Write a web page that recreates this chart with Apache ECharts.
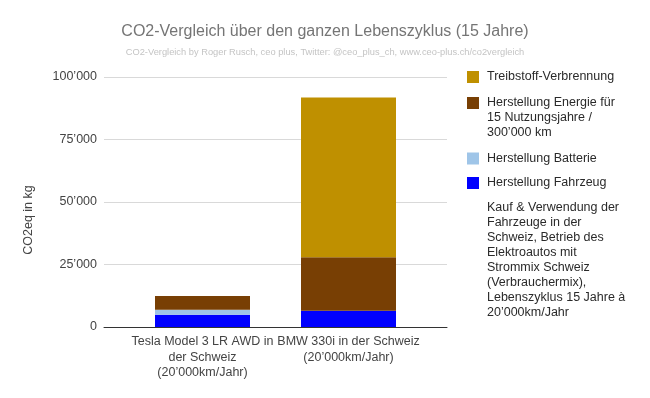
<!DOCTYPE html>
<html>
<head>
<meta charset="utf-8">
<script src="https://cdn.jsdelivr.net/npm/echarts@6/dist/echarts.min.js"></script>
<style>html,body{margin:0;padding:0;background:#fff}#c{width:650px;height:398px}</style>
</head>
<body>
<div id="c"></div>
<script>
const categories = ['Tesla Model 3 LR AWD in\nder Schweiz\n(20’000km/Jahr)', 'BMW 330i in der Schweiz\n(20’000km/Jahr)'];
const fahrzeug = [4900, 6500];
const batterie = [2000, 0];
const energie = [5500, 21400];
const treibstoff = [0, 63900];
const yTicks = [0, 25000, 50000, 75000, 100000];
const seriesNames = ['Herstellung Fahrzeug', 'Herstellung Batterie', 'Herstellung Energie für\n15 Nutzungsjahre /\n300’000 km', 'Treibstoff-Verbrennung'];
const noteText = 'Kauf & Verwendung der\nFahrzeuge in der\nSchweiz, Betrieb des\nElektroautos mit\nStrommix Schweiz\n(Verbrauchermix),\nLebenszyklus 15 Jahre à\n20’000km/Jahr';

const FONT = '"Liberation Sans", Arial, sans-serif';
const colors = ['#0000ff', '#9fc5e8', '#783f04', '#bf9000'];
const fmt = v => String(v).replace(/\B(?=(\d{3})+(?!\d))/g, '’');

const iconSingle = 'path://M0,0h12v12h-12zM14.99,11.99h0.01v0.01h-0.01z';
const iconTall = 'path://M0,1.5h12v12h-12zM0,0h0.01v0.01h-0.01zM14.99,44.99h0.01v0.01h-0.01z';

function legend(name, top, tall) {
  return {
    data: [name], left: 467, top: top, orient: 'vertical', padding: 0,
    itemWidth: 15, itemHeight: tall ? 45 : 12, icon: tall ? iconTall : iconSingle,
    selectedMode: false,
    textStyle: { fontFamily: FONT, fontSize: 12.5, color: '#2a2a2a', lineHeight: 15, padding: 0 }
  };
}

const chart = echarts.init(document.getElementById('c'), null, { renderer: 'canvas' });
const data = [fahrzeug, batterie, energie, treibstoff];
chart.setOption({
  animation: false,
  title: {
    text: 'CO2-Vergleich über den ganzen Lebenszyklus (15 Jahre)',
    subtext: 'CO2-Vergleich by Roger Rusch, ceo plus, Twitter: @ceo_plus_ch, www.ceo-plus.ch/co2vergleich',
    left: 'center', top: 24, itemGap: 8, padding: 0,
    textStyle: { fontFamily: FONT, fontSize: 16, fontWeight: 'normal', color: '#757575' },
    subtextStyle: { fontFamily: FONT, fontSize: 9.3, color: '#c4c4c4' }
  },
  legend: [
    legend(seriesNames[3], 69.5, false),
    legend(seriesNames[2], 95.5, true),
    legend(seriesNames[1], 151, false),
    legend(seriesNames[0], 175.5, false)
  ],
  grid: [
    { left: 104, right: 203, top: 77, bottom: 71 },
    { left: 129.5, right: 228.5, top: 77, bottom: 71 }
  ],
  xAxis: [
    { type: 'value', gridIndex: 0, min: 0, max: 1, show: true,
      axisLine: { show: true, onZero: false, lineStyle: { color: '#333', width: 1 } },
      axisTick: { show: false }, axisLabel: { show: false }, splitLine: { show: false } },
    { type: 'category', gridIndex: 1, data: categories,
      axisLine: { show: false }, axisTick: { show: false },
      axisLabel: { interval: 0, margin: 7, fontFamily: FONT, fontSize: 12.5, color: '#444', lineHeight: 15.5 } }
  ],
  yAxis: [
    { type: 'value', gridIndex: 0, min: yTicks[0], max: yTicks[yTicks.length - 1], interval: 25000,
      axisLine: { show: false }, axisTick: { show: false },
      axisLabel: { margin: 7, fontFamily: FONT, fontSize: 12.5, color: '#444', formatter: fmt },
      splitLine: { lineStyle: { color: '#d9d9d9', width: 1 } } },
    { type: 'value', gridIndex: 1, min: yTicks[0], max: yTicks[yTicks.length - 1], interval: 25000,
      show: false, splitLine: { show: false } }
  ],
  graphic: [
    { type: 'text', x: 28.5, y: 220, rotation: Math.PI / 2,
      style: { text: 'CO2eq in kg', fontFamily: FONT, fontSize: 12.5, fill: '#444', align: 'center', verticalAlign: 'middle' } },
    { type: 'text', left: 487, top: 200.5,
      style: { text: noteText, fontFamily: FONT, fontSize: 12.5, fill: '#2a2a2a', lineHeight: 15 } }
  ],
  series: seriesNames.map((n, i) => ({
    name: n, type: 'bar', stack: 'total', xAxisIndex: 1, yAxisIndex: 1,
    barWidth: 95, data: data[i], itemStyle: { color: colors[i] }
  }))
});
</script>
</body>
</html>
